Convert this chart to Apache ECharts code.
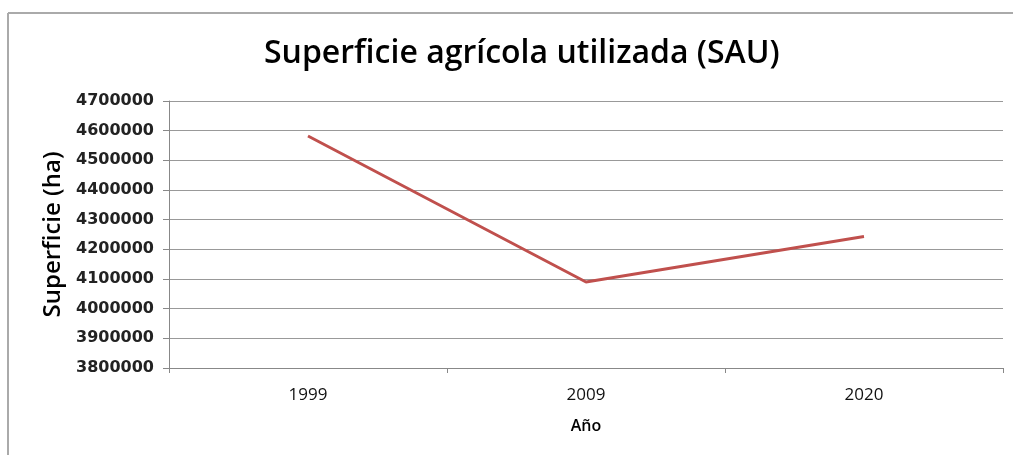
<!DOCTYPE html>
<html>
<head>
<meta charset="utf-8">
<script src="https://cdn.jsdelivr.net/npm/echarts@6/dist/echarts.min.js"></script>
<style>
html,body{margin:0;padding:0;background:#fff;}
#chart{width:1013px;height:455px;}
</style>
</head>
<body>
<div id="chart"></div>
<script>
const categories = ['1999', '2009', '2020'];
const sauValues = [4582000, 4090000, 4243000];
const yTicks = { min: 3800000, max: 4700000, interval: 100000 };
const titleText = 'Superficie agrícola utilizada (SAU)';
const yAxisName = 'Superficie (ha)';
const xAxisName = 'Año';

const chart = echarts.init(document.getElementById('chart'), null, { renderer: 'canvas' });
chart.setOption({
  animation: false,
  backgroundColor: '#ffffff',
  title: {
    text: titleText,
    left: 259,
    top: 33,
    textStyle: { fontFamily: 'Open Sans', fontWeight: 600, fontSize: 32, color: '#000' }
  },
  graphic: [
    { type: 'line', shape: { x1: 8, y1: 13, x2: 1013, y2: 13 }, style: { stroke: '#aaaaaa', lineWidth: 2 } },
    { type: 'line', shape: { x1: 8, y1: 13, x2: 8, y2: 455 }, style: { stroke: '#aaaaaa', lineWidth: 2 } }
  ],
  grid: { left: 169, right: 10, top: 101, bottom: 87, containLabel: false },
  xAxis: {
    type: 'category',
    data: categories,
    boundaryGap: true,
    name: xAxisName,
    nameLocation: 'middle',
    nameGap: 50,
    nameTextStyle: { fontFamily: 'Open Sans', fontWeight: 600, fontSize: 16, color: '#000' },
    axisLine: { lineStyle: { color: '#888', width: 1 } },
    axisTick: { show: true, length: 5, lineStyle: { color: '#888' }, alignWithLabel: false },
    axisLabel: { fontFamily: 'Open Sans', fontSize: 17, color: '#111', margin: 19 },
    splitLine: { show: false }
  },
  yAxis: {
    type: 'value',
    min: yTicks.min,
    max: yTicks.max,
    interval: yTicks.interval,
    name: yAxisName,
    nameLocation: 'middle',
    nameRotate: 90,
    nameGap: 90,
    nameTextStyle: { fontFamily: 'Open Sans', fontWeight: 600, fontSize: 24, color: '#000' },
    axisLine: { show: true, lineStyle: { color: '#888', width: 1 } },
    axisTick: { show: true, length: 6, lineStyle: { color: '#888' } },
    axisLabel: {
      fontFamily: 'DejaVu Sans', fontSize: 16, fontWeight: 'bold', color: '#222', margin: 15,
      formatter: function (v) { return String(v); }
    },
    splitLine: { show: true, lineStyle: { color: '#999', width: 1 } }
  },
  series: [{
    type: 'line',
    data: sauValues,
    symbol: 'none',
    lineStyle: { color: '#C0504D', width: 3 },
    itemStyle: { color: '#C0504D' }
  }]
});
</script>
</body>
</html>
